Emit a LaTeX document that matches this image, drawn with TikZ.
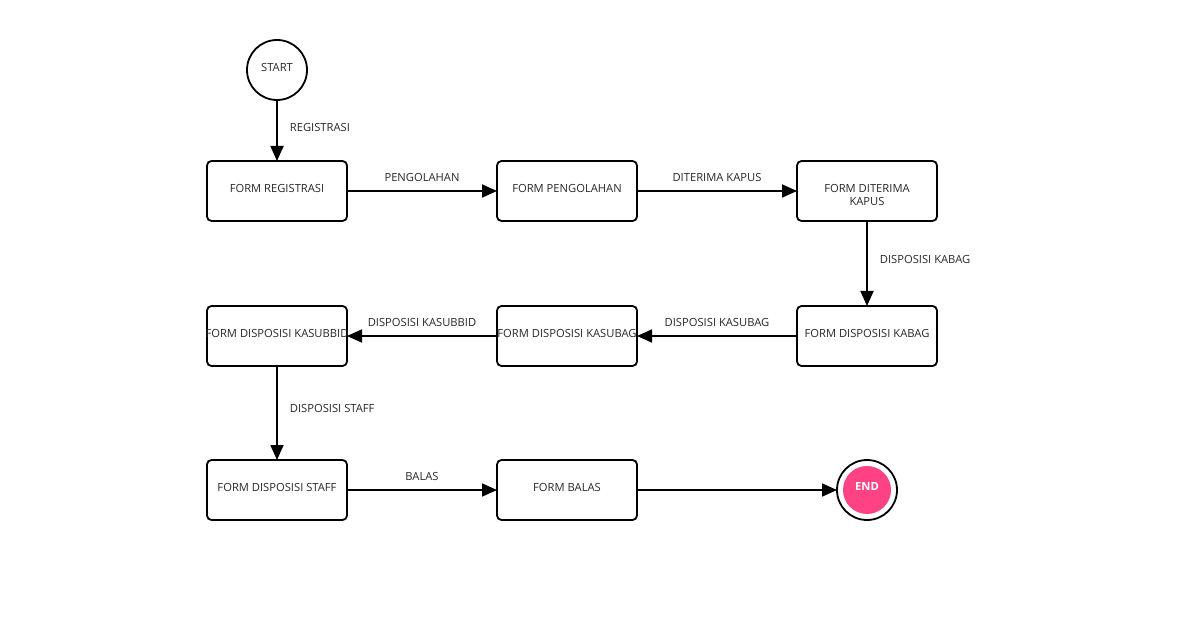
\documentclass[tikz,border=0pt]{standalone}
\usepackage{fontspec}
\setmainfont{Open Sans}
\usepackage{tikz}
\usetikzlibrary{arrows.meta,positioning}
\definecolor{endpink}{RGB}{255,66,132}
\definecolor{txtgray}{RGB}{40,40,40}

\begin{document}
\begin{tikzpicture}[x=1pt,y=-1pt,
    font=\fontsize{11.2}{13}\selectfont,text=txtgray,
    box/.style={draw,line width=1.8pt,rounded corners=4.5pt,minimum width=140pt,minimum height=60pt,inner sep=0,outer sep=0},
    txt/.style={anchor=north,yshift=-21.5pt,inner sep=2pt,align=center},
    st/.style={circle,draw,line width=1.8pt,minimum size=60pt,inner sep=0,outer sep=0,text depth=6pt},
    lbl/.style={inner sep=2pt},
    arr/.style={line width=1.8pt,-{Triangle[length=15pt,width=13pt]}}]
    \useasboundingbox (0,0) rectangle (1195,620);
    \node[st] (start) at (277,70) {START};
    \node[box,label={[txt]north:FORM REGISTRASI}] (reg) at (277,191){};
    \node[box,right=150pt of reg,label={[txt]north:FORM PENGOLAHAN}] (peng){};
    \node[box,right=160pt of peng,label={[txt]north:FORM DITERIMA\\KAPUS}] (kapus){};
    \node[box,below=85pt of kapus,label={[txt]north:FORM DISPOSISI KABAG}] (kabag){};
    \node[box,left=160pt of kabag,label={[txt]north:FORM DISPOSISI KASUBAG}] (kasubag){};
    \node[box,left=150pt of kasubag,label={[txt]north:FORM DISPOSISI KASUBBID}] (kasubbid){};
    \node[box,below=94pt of kasubbid,label={[txt]north:FORM DISPOSISI STAFF}] (staff){};
    \node[box,right=150pt of staff,label={[txt]north:FORM BALAS}] (balas){};
    \node[st,right=200pt of balas,text=white,font=\fontsize{11.2}{13}\selectfont\bfseries,
      path picture={\fill[endpink] (path picture bounding box.center) circle (24pt);}] (end) {END};
    \draw[arr] (start) -- node[lbl,right=10pt,pos=0.45]{REGISTRASI} (reg);
    \draw[arr] (reg) -- node[lbl,above=6pt]{PENGOLAHAN} (peng);
    \draw[arr] (peng) -- node[lbl,above=6pt]{DITERIMA KAPUS} (kapus);
    \draw[arr] (kapus) -- node[lbl,right=10pt,pos=0.45]{DISPOSISI KABAG} (kabag);
    \draw[arr] (kabag) -- node[lbl,above=6pt]{DISPOSISI KASUBAG} (kasubag);
    \draw[arr] (kasubag) -- node[lbl,above=6pt]{DISPOSISI KASUBBID} (kasubbid);
    \draw[arr] (kasubbid) -- node[lbl,right=10pt,pos=0.45]{DISPOSISI STAFF} (staff);
    \draw[arr] (staff) -- node[lbl,above=6pt]{BALAS} (balas);
    \draw[arr] (balas) -- (end);
  \end{tikzpicture}
\end{document}
